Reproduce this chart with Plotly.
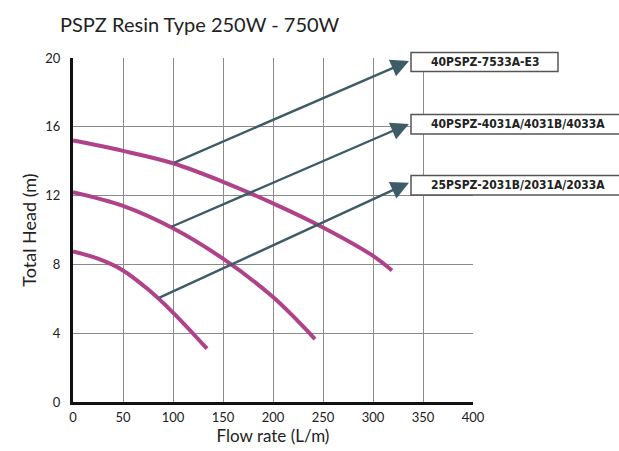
import plotly.graph_objects as go

# Pump curves (flow L/m, head m)
flow_7533 = [0, 50, 100, 150, 200, 250, 300, 319]
head_7533 = [15.2, 14.6, 13.88, 12.8, 11.55, 10.15, 8.5, 7.65]
flow_4031 = [0, 50, 100, 150, 200, 242]
head_4031 = [12.2, 11.4, 10.1, 8.33, 6.1, 3.66]
flow_2031 = [0, 25, 50, 75, 100, 134]
head_2031 = [8.75, 8.33, 7.65, 6.55, 5.2, 3.1]

# Label callouts: model name, curve point (tail), arrow tip
models = ["40PSPZ-7533A-E3", "40PSPZ-4031A/4031B/4033A", "25PSPZ-2031B/2031A/2033A"]
tail_x = [100, 97, 85]
tail_y = [13.88, 10.15, 6.03]
tip_x = [336, 336, 336]
tip_y = [19.83, 16.17, 12.75]

x_ticks = [0, 50, 100, 150, 200, 250, 300, 350, 400]
y_ticks = [0, 4, 8, 12, 16, 20]

CURVE = "#B0428A"
ARROW = "#3E5B68"

fig = go.Figure()
for fx, hy in [(flow_7533, head_7533), (flow_4031, head_4031), (flow_2031, head_2031)]:
    fig.add_trace(go.Scatter(x=fx, y=hy, mode="lines", line=dict(color=CURVE, width=4, shape="spline", smoothing=1.0),
                             hoverinfo="skip", showlegend=False))

# plot area pixels: left 73, right 473, top 58, bottom 402
W, H = 619, 451
L, R, T, B = 73, 473, 58, 402

def px_to_paper_x(px):
    return (px - L) / (R - L)

def py_to_paper_y(py):
    return (B - py) / (B - T)

boxes = [(411, 558, 52.5, 71.5), (411, 640, 114.5, 134), (411, 640, 175.5, 195)]

shapes = []
annotations = []
for i, m in enumerate(models):
    annotations.append(dict(x=tip_x[i], y=tip_y[i], ax=tail_x[i], ay=tail_y[i], xref="x", yref="y",
                            axref="x", ayref="y", showarrow=True, arrowhead=2, arrowsize=1.5,
                            arrowwidth=2.4, arrowcolor=ARROW, standoff=0, text=""))
    x0, x1, y0, y1 = boxes[i]
    shapes.append(dict(type="rect", xref="paper", yref="paper",
                       x0=px_to_paper_x(x0), x1=px_to_paper_x(x1),
                       y0=py_to_paper_y(y1), y1=py_to_paper_y(y0),
                       line=dict(color="#555555", width=1.5), fillcolor="white", layer="above"))
    annotations.append(dict(x=px_to_paper_x(429), y=py_to_paper_y((y0 + y1) / 2), xref="paper", yref="paper",
                            xanchor="left", yanchor="middle", showarrow=False, text=m,
                            font=dict(family="DejaVu Sans Condensed", size=12, weight="bold",
                                      color="#222222")))

fig.update_layout(
    width=W, height=H,
    margin=dict(l=L, r=W - R, t=T, b=H - B, autoexpand=False),
    paper_bgcolor="white", plot_bgcolor="white",
    title=dict(text="PSPZ Resin Type 250W - 750W", xref="container", yref="container",
               x=60 / W, xanchor="left", y=1 - 25 / H, yanchor="middle",
               font=dict(family="Lato", size=20, color="#222222")),
    shapes=shapes, annotations=annotations,
    font=dict(family="Lato", color="#222222"),
    showlegend=False,
)
fig.update_xaxes(range=[0, 400], tickvals=x_ticks, showgrid=True, gridcolor="#8a8a8a", gridwidth=1,
                 showline=True, linecolor="#111111", linewidth=3, zeroline=False, ticks="",
                 automargin=False, ticklabelstandoff=1, tickfont=dict(size=13),
                 title=dict(text="Flow rate (L/m)", font=dict(size=17), standoff=7))
fig.update_yaxes(range=[0, 20], tickvals=y_ticks, showgrid=True, gridcolor="#8a8a8a", gridwidth=1,
                 showline=True, linecolor="#111111", linewidth=3, zeroline=False, ticks="",
                 automargin=False, ticklabelstandoff=7, tickfont=dict(size=13),
                 title=dict(text="Total Head (m)", font=dict(size=18), standoff=5))

fig.write_html("out.html", config={"displayModeBar": False},
               post_script="document.body.style.margin='0';document.body.style.overflow='hidden';")
